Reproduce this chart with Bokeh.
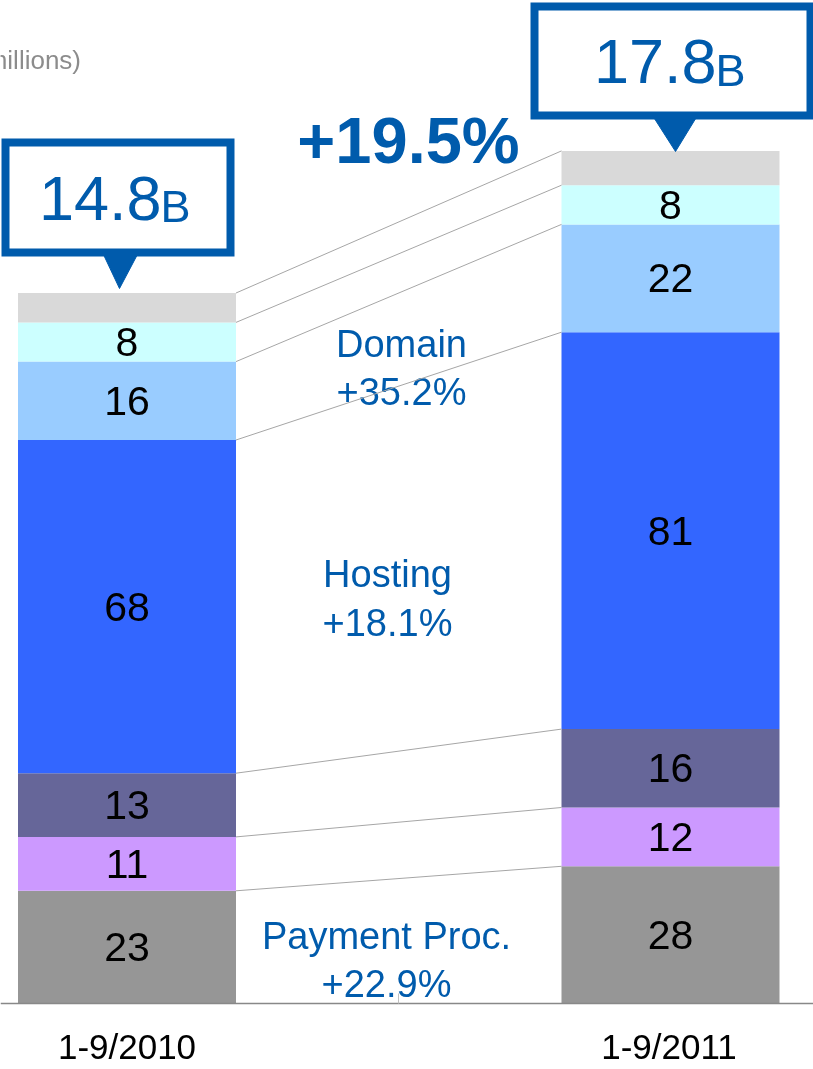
import numpy as np
from bokeh.plotting import figure
from bokeh.models import ColumnDataSource, Range1d
from bokeh.core.properties import value
from bokeh.embed import file_html
from bokeh.resources import INLINE

# ---------------- data ----------------
categories = ["1-9/2010", "1-9/2011"]
series = ["payment", "seg2", "seg3", "hosting", "domain", "seg6", "other"]
values_2010 = [23, 11, 13, 68, 16, 8, 6]
values_2011 = [28, 12, 16, 81, 22, 8, 7]
show_label = [True, True, True, True, True, True, False]
colors = ["#969696", "#CC99FF", "#666699", "#3366FF", "#99CCFF", "#CCFFFF", "#D9D9D9"]
totals_text = ["14.8", "17.8"]
total_unit = "B"
growth_total = "+19.5%"
growth_names = ["Domain", "Hosting", "Payment Proc."]
growth_rates = ["+35.2%", "+18.1%", "+22.9%"]
unit_note = "(JPY 100 millions)"

# ---------------- layout ----------------
W, H = 813, 1069
BASE = 1003.0      # baseline (px from top)
SCALE = 4.9        # px per unit
x_pos = [126.5, 670.0]
bar_w = 218
BLUE = "#005BAC"
FONT = value("Liberation Sans")

p = figure(width=W, height=H, output_backend="svg", toolbar_location=None,
           x_axis_type=None, y_axis_type=None,
           x_range=Range1d(0, W),
           y_range=Range1d(-(H - BASE) / SCALE, BASE / SCALE),
           min_border=0, outline_line_color=None)
p.extra_y_ranges = {"px": Range1d(H, 0)}
p.grid.visible = False
p.background_fill_color = "white"
p.border_fill_color = "white"
p.styles = {"position": "fixed", "left": "0px", "top": "0px"}

# stacked bars
data = {"x": x_pos}
for i, s in enumerate(series):
    data[s] = [values_2010[i], values_2011[i]]
src = ColumnDataSource(data)
p.vbar_stack(series, x="x", width=bar_w, fill_color=colors, line_color=None, source=src)

# segment labels
lx, ly, lt = [], [], []
for xi, vals in zip(x_pos, [values_2010, values_2011]):
    v = np.array(vals, dtype=float)
    cum = np.cumsum(v)
    mids = cum - v / 2
    for k in range(len(v)):
        if show_label[k]:
            lx.append(xi)
            ly.append(mids[k])
            lt.append(str(vals[k]))
p.text(x=lx, y=ly, text=lt, text_font=FONT, text_font_size="41px",
       text_color="black", text_align="center", text_baseline="middle")

# growth labels (px coordinates, text centres)
g_x = [401, 387, 386]
g_y1 = [343, 573, 935]
g_y2 = [391, 622, 983]
p.text(x=g_x, y=g_y1, text=growth_names, y_range_name="px", text_font=FONT,
       text_font_size="38px", text_color=BLUE, text_align="center", text_baseline="middle")
p.text(x=g_x, y=g_y2, text=growth_rates, y_range_name="px", text_font=FONT,
       text_font_size="38px", text_color=BLUE, text_align="center", text_baseline="middle")

# connecting lines between stack boundaries
c0 = np.cumsum(values_2010)
c1 = np.cumsum(values_2011)
p.segment(x0=[x_pos[0] + bar_w / 2] * len(c0), y0=list(c0),
          x1=[x_pos[1] - bar_w / 2] * len(c1), y1=list(c1),
          line_color="#A6A6A6", line_width=1)

# baseline and separator tick
p.segment(x0=[0], y0=[0], x1=[W], y1=[0], line_color="#888888", line_width=1.5)
p.segment(x0=[398], y0=[BASE], x1=[398], y1=[BASE - 10], y_range_name="px",
          line_color="#C0C0C0", line_width=1)

# category labels
p.text(x=[126.5, 668.5], y=[1045.5, 1045.5], text=categories, y_range_name="px", text_font=FONT,
       text_font_size="35px", text_color="black", text_align="center",
       text_baseline="middle")

# callout boxes
p.quad(left=[5, 534], right=[230, 810], top=[142, 6], bottom=[252, 115],
       y_range_name="px", fill_color="white", line_color=BLUE, line_width=8,
       line_join="miter")
p.patches(xs=[[102, 138, 119], [652, 697, 675]],
          ys=[[252, 252, 288], [115, 115, 151]], y_range_name="px",
          fill_color=BLUE, line_color=BLUE, line_width=1)
p.text(x=[161, 716], y=[197.5, 61], text=totals_text, y_range_name="px", text_font=FONT,
       text_font_size="63px", text_color=BLUE, text_align="right", text_baseline="middle")
p.text(x=[160, 715], y=[206, 69.5], text=[total_unit, total_unit], y_range_name="px",
       text_font=FONT, text_font_size="45px", text_color=BLUE, text_align="left",
       text_baseline="middle")

# overall growth
p.text(x=[408], y=[140], text=[growth_total], y_range_name="px", text_font=FONT,
       text_font_size="65px", text_font_style="bold", text_color=BLUE,
       text_align="center", text_baseline="middle")

# unit note (cut at left edge, as in the original slide)
p.text(x=[81], y=[59], text=[unit_note], y_range_name="px", text_font=FONT,
       text_font_size="26px", text_color="#8C8C8C", text_align="right",
       text_baseline="middle")

open("out.html", "w").write(file_html(p, INLINE))
